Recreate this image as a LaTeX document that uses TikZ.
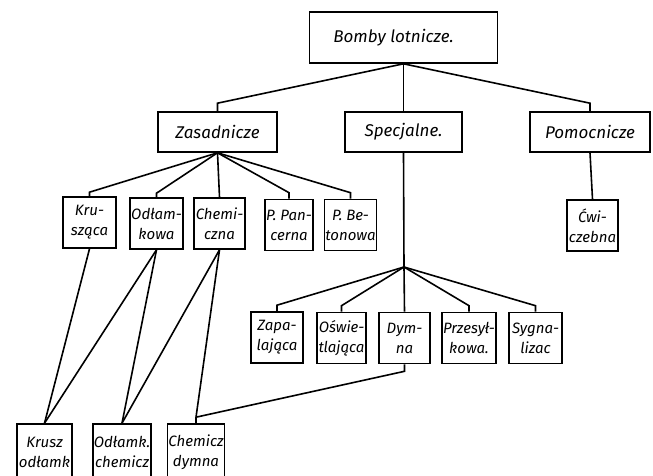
\documentclass[tikz,border=0pt]{standalone}
\usepackage{fontspec}
\setmainfont{Fira Sans}
\usetikzlibrary{positioning}

\tikzset{
  box/.style={draw, line width=1.6pt, align=center, inner sep=1pt, font=\itshape},
  topbox/.style={box, minimum width=188pt, minimum height=51pt, font=\itshape\fontsize{17}{20}\selectfont},
  midbox/.style={box, minimum width=119pt, minimum height=40pt, font=\itshape\fontsize{17}{20}\selectfont},
  smallbox/.style={box, minimum width=51pt, minimum height=51pt, font=\itshape\fontsize{15}{20}\selectfont},
  link/.style={line width=1.6pt}
}

\begin{document}
\begin{tikzpicture}[x=1pt,y=-1pt]
\clip (0,0) rectangle (653,476);

    \node [topbox] (root) at (403.5,37.5) {Bomby lotnicze.\hspace{20pt}};

    \node [midbox] (zas) at (217.5,132) {Zasadnicze};
    \node [midbox, minimum width=117pt] (spec) at (403.5,132) {Specjalne.};
    \node [midbox, minimum width=120pt] (pom) at (590,132) {Pomocnicze};

    \node [smallbox, minimum width=53pt] (krus) at (89.5,222.5) {Kru-\\sząca};
    \node [smallbox, minimum width=49pt] (odl) at (156.5,223.5) {Odłam-\\kowa};
    \node [smallbox] (chem) at (219.5,223.5) {Chemi-\\czna};
    \node [smallbox, minimum width=48pt] (pan) at (289,225) {P. Pan-\\cerna};
    \node [smallbox, minimum width=47pt] (bet) at (350.5,225) {P. Be-\\tonowa};
    \node [smallbox] (cwi) at (592.5,225.5) {Ćwi-\\czebna};

    \coordinate (fan) at (404,267);
    \node [smallbox, minimum width=52pt] (zap) at (277,337.5) {Zapa-\\lająca};
    \node [smallbox, minimum width=49pt] (osw) at (341.5,338) {Oświe-\\tlająca};
    \node [smallbox] (dym) at (404.5,338) {Dym-\\na};
    \node [smallbox, minimum width=52pt] (prz) at (469,338) {Przesył-\\kowa.};
    \node [smallbox, minimum width=53pt] (syg) at (535.5,338) {Sygna-\\lizac};

    \node [smallbox, minimum width=55pt, minimum height=56pt] (kod) at (44.5,452) {Krusz\\odłamk};
    \node [smallbox, minimum width=50pt, minimum height=56pt] (och) at (122,452) {Odłamk.\\chemicz};
    \node [smallbox, minimum width=50pt, minimum height=56pt] (cdy) at (196,452) {Chemicz\\dymna};

    \draw [link] (root.south) -- ([yshift=8pt]zas.north) -- (zas.north);
    \draw [link] (root.south) -- (spec.north);
    \draw [link] (root.south) -- ([yshift=8pt]pom.north) -- (pom.north);

    \draw [link] (zas.south) -- ([yshift=4pt]krus.north) -- (krus.north);
    \draw [link] (zas.south) -- ([yshift=4pt]odl.north) -- (odl.north);
    \draw [link] (zas.south) -- (chem.north);
    \draw [link] (zas.south) -- ([yshift=6pt]pan.north) -- (pan.north);
    \draw [link] (zas.south) -- ([yshift=6pt]bet.north) -- (bet.north);

    \draw [link] (pom.south) -- (cwi.north);

    \draw [link] (spec.south) -- (fan);
    \draw [link] (fan) -- ([yshift=6pt]zap.north) -- (zap.north);
    \draw [link] (fan) -- ([yshift=6pt]osw.north) -- (osw.north);
    \draw [link] (fan) -- (dym.north);
    \draw [link] (fan) -- ([yshift=6pt]prz.north) -- (prz.north);
    \draw [link] (fan) -- ([yshift=6pt]syg.north) -- (syg.north);

    \draw [link] (krus.south) -- (kod.north);
    \draw [link] (odl.south) -- (kod.north);
    \draw [link] (odl.south) -- (och.north);
    \draw [link] (chem.south) -- (och.north);
    \draw [link] (chem.south) -- ([yshift=6pt]cdy.north) -- (cdy.north);
    \draw [link] (dym.south) -- ([yshift=-7pt]dym.south) -- ([yshift=6pt]cdy.north);

\end{tikzpicture}
\end{document}
